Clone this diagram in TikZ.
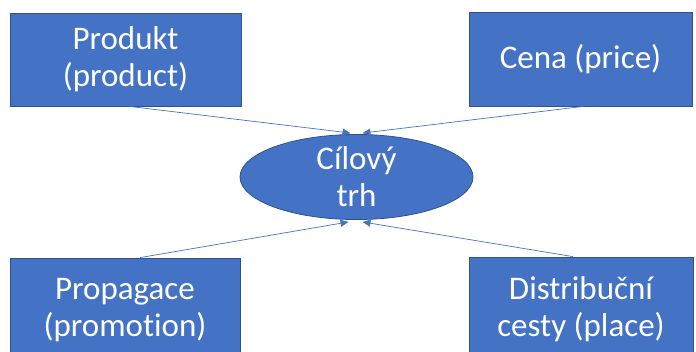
\documentclass[tikz,border=0pt]{standalone}
\usepackage{fontspec}
\setmainfont{Carlito}[Ligatures=NoCommon]
\usetikzlibrary{shapes.geometric, arrows.meta, calc}
\definecolor{officeblue}{RGB}{68,114,196}
\definecolor{officeline}{RGB}{47,82,143}
\tikzset{
  mixbox/.style={draw=officeline, line width=0.8pt, fill=officeblue, text=white,
    align=center, inner sep=0pt, font=\fontsize{33}{37}\selectfont},
  mixlink/.style={draw=officeblue, line width=0.7pt, -{Triangle[length=8pt,width=7pt]}}
}
\begin{document}
\begin{tikzpicture}[x=1pt, y=-1pt]
    \useasboundingbox (0,0) rectangle (696,351);
    \clip (0,0) rectangle (696,351);
    \node[mixbox, minimum width=231pt, minimum height=93pt] (produkt) at (125.5,59.5) {Produkt\\(product)};
    \node[mixbox, minimum width=223pt, minimum height=94pt] (cena) at (580.5,59) {Cena (price)};
    \node[mixbox, minimum width=230pt, minimum height=104pt] (propagace) at (125,310) {Propagace\\(promotion)};
    \node[mixbox, minimum width=224pt, minimum height=104pt] (distribuce) at (581,309) {Distribuční\\cesty (place)};
    \node[mixbox, ellipse, minimum width=233pt, minimum height=81pt] (trh) at (356.5,177) {Cílový\\trh};

    \draw[mixlink] ($(produkt.south)+(4,0)$) -- ($(trh.north)+(-6,-1)$);
    \draw[mixlink] ($(cena.south)+(3,0)$) -- ($(trh.north)+(6,-1)$);
    \draw[mixlink] ($(propagace.north)+(15,0)$) -- ($(trh.south)+(-8,2)$);
    \draw[mixlink] ($(distribuce.north)+(-8,0)$) -- ($(trh.south)+(6,2)$);
\end{tikzpicture}
\end{document}
